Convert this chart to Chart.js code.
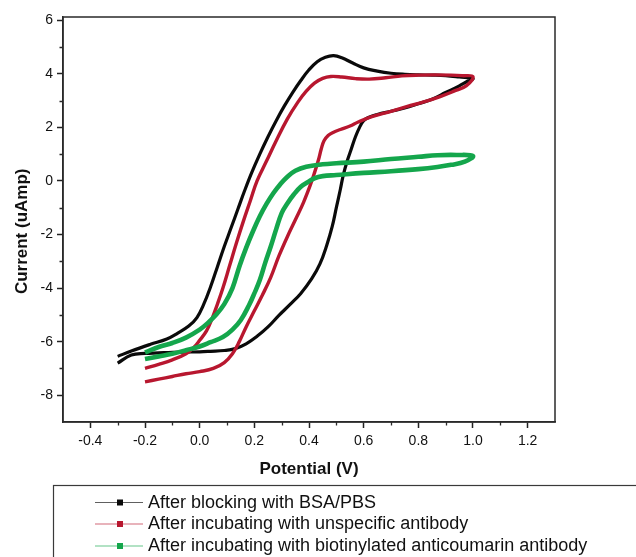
<!DOCTYPE html>
<html><head><meta charset="utf-8">
<script src="https://cdn.jsdelivr.net/npm/chart.js@4.4.1/dist/chart.umd.min.js"></script>
<style>html,body{margin:0;padding:0;background:#fff;}#wrap{position:relative;width:636px;height:557px;}</style>
</head><body><div id="wrap"><canvas id="c" width="636" height="557"></canvas></div>
<script>
const seriesLabels = [
  'After blocking with BSA/PBS',
  'After incubating with unspecific antibody',
  'After incubating with biotinylated anticoumarin antibody'
];
const seriesColors = ['#0a0a0a', '#b8172f', '#14a64c'];

// After blocking with BSA/PBS (forward then reverse scan)
const blackPotential = [-0.30,-0.25,-0.18,-0.12,-0.08,-0.04,-0.01,0.015,0.04,0.065,0.09,0.115,0.14,0.165,0.19,0.22,0.25,0.28,0.31,0.34,0.37,0.40,0.43,0.46,0.49,0.52,0.56,0.60,0.65,0.70,0.75,0.80,0.85,0.90,0.95,1.00,
  0.98,0.95,0.90,0.85,0.80,0.75,0.70,0.65,0.62,0.60,0.585,0.57,0.555,0.54,0.525,0.515,0.50,0.485,0.465,0.44,0.41,0.37,0.33,0.29,0.25,0.21,0.17,0.13,0.09,0.04,0.00,-0.05,-0.10,-0.15,-0.20,-0.25,-0.30];
const blackCurrent = [-6.55,-6.35,-6.1,-5.9,-5.68,-5.42,-5.1,-4.6,-3.95,-3.2,-2.45,-1.75,-1.05,-0.35,0.3,1.0,1.65,2.25,2.8,3.3,3.75,4.15,4.45,4.62,4.68,4.6,4.4,4.22,4.1,4.02,3.98,3.96,3.95,3.93,3.88,3.82,
  3.72,3.55,3.3,3.05,2.88,2.72,2.6,2.48,2.38,2.25,2.0,1.65,1.2,0.75,0.2,-0.3,-1.0,-1.7,-2.4,-3.1,-3.65,-4.2,-4.62,-5.02,-5.45,-5.8,-6.08,-6.26,-6.33,-6.36,-6.38,-6.39,-6.4,-6.42,-6.44,-6.5,-6.8];

// After incubating with unspecific antibody
const redPotential = [-0.20,-0.15,-0.10,-0.05,-0.02,0.00,0.025,0.045,0.065,0.085,0.11,0.135,0.16,0.185,0.21,0.245,0.28,0.32,0.36,0.39,0.42,0.45,0.48,0.52,0.57,0.62,0.68,0.74,0.80,0.86,0.92,0.96,1.00,
  0.975,0.93,0.88,0.82,0.76,0.70,0.63,0.58,0.55,0.515,0.49,0.47,0.455,0.445,0.435,0.42,0.405,0.38,0.355,0.32,0.29,0.26,0.23,0.20,0.17,0.145,0.12,0.09,0.05,0.00,-0.05,-0.10,-0.15,-0.20];
const redCurrent = [-7.0,-6.85,-6.68,-6.45,-6.2,-5.95,-5.6,-5.15,-4.6,-4.0,-3.15,-2.3,-1.5,-0.75,0.0,0.75,1.5,2.3,2.95,3.35,3.65,3.83,3.9,3.88,3.82,3.8,3.85,3.92,3.95,3.96,3.95,3.93,3.89,
  3.55,3.35,3.15,2.95,2.78,2.6,2.4,2.2,2.05,1.92,1.82,1.7,1.5,1.2,0.8,0.3,-0.15,-0.8,-1.35,-2.1,-2.8,-3.6,-4.25,-4.85,-5.45,-6.0,-6.45,-6.78,-7.0,-7.12,-7.2,-7.3,-7.4,-7.5];

// After incubating with biotinylated anticoumarin antibody
const greenPotential = [-0.20,-0.15,-0.10,-0.05,0.00,0.03,0.06,0.09,0.12,0.145,0.17,0.195,0.22,0.245,0.27,0.295,0.32,0.35,0.39,0.45,0.50,0.60,0.70,0.80,0.87,0.94,1.00,
  0.97,0.92,0.87,0.80,0.70,0.60,0.50,0.45,0.42,0.395,0.37,0.345,0.32,0.30,0.28,0.26,0.24,0.22,0.20,0.18,0.15,0.12,0.085,0.04,0.00,-0.05,-0.10,-0.15,-0.20];
const greenCurrent = [-6.4,-6.2,-6.05,-5.85,-5.55,-5.3,-5.0,-4.6,-4.0,-3.2,-2.5,-1.88,-1.32,-0.85,-0.45,-0.12,0.15,0.38,0.53,0.62,0.66,0.72,0.82,0.9,0.96,0.97,0.93,
  0.72,0.6,0.52,0.44,0.36,0.3,0.22,0.18,0.1,-0.05,-0.22,-0.5,-0.85,-1.2,-1.8,-2.45,-3.05,-3.7,-4.2,-4.65,-5.2,-5.55,-5.83,-6.02,-6.18,-6.32,-6.45,-6.55,-6.65];

const xTickValues = [-0.4,-0.2,0.0,0.2,0.4,0.6,0.8,1.0,1.2];
const yTickValues = [-8,-6,-4,-2,0,2,4,6];
const xMinorTickValues = [-0.3,-0.1,0.1,0.3,0.5,0.7,0.9,1.1];
const yMinorTickValues = [-7,-5,-3,-1,1,3,5];

const FONT = "'Liberation Sans', Arial, Helvetica, sans-serif";
const toPoints = (xs, ys) => xs.map((x, i) => ({x: x, y: ys[i]}));

const framePlugin = {
  id: 'frame',
  afterDraw(chart) {
    const {ctx, chartArea: a, scales} = chart;
    ctx.save();
    ctx.strokeStyle = '#2a2a2a';
    ctx.lineWidth = 1.5;
    ctx.strokeRect(a.left, a.top, a.right - a.left, a.bottom - a.top);
    ctx.lineWidth = 1.3;
    ctx.beginPath();
    xMinorTickValues.forEach(v => {
      const px = Math.round(scales.x.getPixelForValue(v)) + 0.5;
      ctx.moveTo(px, a.bottom); ctx.lineTo(px, a.bottom + 3.5);
    });
    yMinorTickValues.forEach(v => {
      const py = Math.round(scales.y.getPixelForValue(v)) + 0.5;
      ctx.moveTo(a.left, py); ctx.lineTo(a.left - 3.5, py);
    });
    ctx.stroke();
    ctx.restore();
  }
};

const legendPlugin = {
  id: 'boxLegend',
  afterDraw(chart) {
    const ctx = chart.ctx;
    const boxLeft = 53.5, boxTop = 485.5;
    const rowY = [502, 523.5, 545.5];
    ctx.save();
    ctx.strokeStyle = '#3a3a3a';
    ctx.lineWidth = 1.2;
    ctx.strokeRect(boxLeft, boxTop, 700, 200);
    chart.data.datasets.forEach((ds, i) => {
      const y = rowY[i];
      ctx.globalAlpha = 0.65;
      ctx.strokeStyle = ds.borderColor;
      ctx.lineWidth = 1.2;
      ctx.beginPath();
      ctx.moveTo(95, y + 0.5); ctx.lineTo(143, y + 0.5);
      ctx.stroke();
      ctx.globalAlpha = 1;
      ctx.fillStyle = ds.borderColor;
      ctx.fillRect(117, y - 2.5, 6, 6);
      ctx.fillStyle = '#111';
      ctx.font = '18px ' + FONT;
      ctx.textBaseline = 'middle';
      ctx.textAlign = 'left';
      ctx.fillText(ds.label, 148, y + 1);
    });
    ctx.restore();
  }
};

new Chart(document.getElementById('c'), {
  type: 'scatter',
  data: {
    datasets: [
      {label: seriesLabels[0], data: toPoints(blackPotential, blackCurrent), borderColor: seriesColors[0], borderWidth: 3.2, order: 3},
      {label: seriesLabels[1], data: toPoints(redPotential, redCurrent), borderColor: seriesColors[1], borderWidth: 3.4, order: 2},
      {label: seriesLabels[2], data: toPoints(greenPotential, greenCurrent), borderColor: seriesColors[2], borderWidth: 4.6, order: 1}
    ].map(d => Object.assign(d, {showLine: true, pointRadius: 0, tension: 0.4, fill: false, backgroundColor: d.borderColor}))
  },
  options: {
    responsive: false,
    animation: false,
    devicePixelRatio: 1,
    events: [],
    layout: {padding: {top: 17, right: 81, bottom: 75, left: 0}},
    plugins: {legend: {display: false}, tooltip: {enabled: false}},
    scales: {
      x: {
        type: 'linear', min: -0.5, max: 1.3,
        afterBuildTicks: s => { s.ticks = xTickValues.map(v => ({value: v})); },
        afterFit: s => { s.height = 60; },
        ticks: {color: '#111', font: {family: FONT, size: 14}, padding: 5, maxRotation: 0,
          callback: v => Number(v).toFixed(1)},
        grid: {drawOnChartArea: false, drawTicks: true, tickLength: 6, tickColor: '#222', tickWidth: 1.5},
        border: {display: true, color: '#2a2a2a', width: 1.5},
        title: {display: true, text: 'Potential (V)', color: '#111', font: {family: FONT, size: 17, weight: 'bold'}, padding: {top: 0, bottom: 2}}
      },
      y: {
        type: 'linear', min: -9, max: 6.12,
        afterBuildTicks: s => { s.ticks = yTickValues.map(v => ({value: v})); },
        afterFit: s => { s.width = 63; },
        ticks: {color: '#111', font: {family: FONT, size: 14}, padding: 4,
          callback: v => String(v)},
        grid: {drawOnChartArea: false, drawTicks: true, tickLength: 6, tickColor: '#222', tickWidth: 1.5},
        border: {display: true, color: '#2a2a2a', width: 1.5},
        title: {display: true, text: 'Current (uAmp)     ', color: '#111', font: {family: FONT, size: 17, weight: 'bold'}, padding: {top: 12, bottom: 0}}
      }
    }
  },
  plugins: [framePlugin, legendPlugin]
});
</script>
</body></html>
